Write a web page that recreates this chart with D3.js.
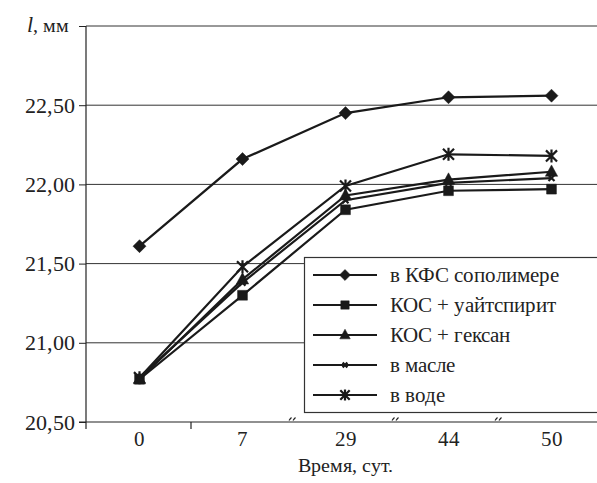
<!DOCTYPE html>
<html>
<head>
<meta charset="utf-8">
<script src="https://cdn.jsdelivr.net/npm/d3@7"></script>
<style>
  @font-face {
    font-family: "ChartSerif";
    src: local("Liberation Serif"), local("LiberationSerif"), local("LiberationSerif-Regular"), local("Tinos"), local("Times New Roman");
    font-style: normal;
  }
  @font-face {
    font-family: "ChartSerif";
    src: local("Liberation Serif Italic"), local("LiberationSerif-Italic"), local("Tinos Italic"), local("Times New Roman Italic");
    font-style: italic;
  }
  html, body { margin: 0; padding: 0; background: #fff; }
  svg { display: block; }
  svg text, svg tspan { font-family: "ChartSerif", "Liberation Serif", "Times New Roman" !important; }
</style>
</head>
<body>
<svg id="chart" width="597" height="483" font-family="Liberation Serif"></svg>
<script>
// Time points (days) and sample length l, mm, for each storage medium
const days = ["0", "7", "29", "44", "50"];
const seriesNames = ["в КФС сополимере", "КОС + уайтспирит", "КОС + гексан", "в масле", "в воде"];
const kfs      = [21.61, 22.16, 22.45, 22.55, 22.56];
const whiteSp  = [20.77, 21.30, 21.84, 21.96, 21.97];
const hexane   = [20.77, 21.40, 21.93, 22.03, 22.08];
const oil      = [20.78, 21.38, 21.90, 22.01, 22.04];
const water    = [20.78, 21.48, 21.99, 22.19, 22.18];
const yTicks   = [20.5, 21.0, 21.5, 22.0, 22.5, 23.0];
const markers  = ["diamond", "square", "triangle", "x", "asterisk"];

const seriesValues = [kfs, whiteSp, hexane, oil, water];

const svg = d3.select("#chart");
const W = 597;
const plotLeft = 86, plotTop = 26, plotBottom = 422;

const x = d3.scaleBand().domain(days).range([88, 603]).padding(0);
const y = d3.scaleLinear().domain([20.5, 23]).range([plotBottom, plotTop]);

// horizontal gridlines
svg.append("g").selectAll("line").data(yTicks.slice(1)).join("line")
  .attr("x1", plotLeft).attr("x2", W)
  .attr("y1", d => y(d)).attr("y2", d => y(d))
  .attr("stroke", "#333").attr("stroke-width", 1);

// y axis
const fmt = v => d3.format(".2f")(v).replace(".", ",");
const yAxis = d3.axisLeft(y).tickValues(yTicks).tickSize(7).tickPadding(4)
  .tickFormat(d => d === 23 ? "" : fmt(d));
const gy = svg.append("g").attr("transform", `translate(${plotLeft},0)`).call(yAxis);
gy.attr("font-family", null).attr("font-size", 22);
gy.select(".domain").remove();
gy.selectAll(".tick line").attr("stroke", "#222");
gy.selectAll(".tick text").attr("fill", "#222");
svg.append("line").attr("x1", plotLeft).attr("x2", plotLeft).attr("y1", plotTop).attr("y2", plotBottom + 7)
  .attr("stroke", "#222").attr("stroke-width", 1.2);

// unit label at the top tick
const unit = svg.append("text").attr("x", plotLeft - 17).attr("y", y(23)).attr("dy", "0.32em")
  .attr("text-anchor", "end").attr("font-size", 20).attr("fill", "#222");
unit.append("tspan").attr("font-style", "italic").attr("font-size", 22).text("l");
unit.append("tspan").text(", мм");

// x axis
svg.append("line").attr("x1", plotLeft - 7).attr("x2", W).attr("y1", plotBottom).attr("y2", plotBottom)
  .attr("stroke", "#222").attr("stroke-width", 1.2);
const xAxis = d3.axisBottom(x).tickSize(0).tickPadding(9);
const gx = svg.append("g").attr("transform", `translate(0,${plotBottom})`).call(xAxis);
gx.attr("font-family", null).attr("font-size", 21);
gx.select(".domain").remove();
gx.selectAll(".tick text").attr("fill", "#222");

// category boundaries: a tick between 0 and 7, scale-break marks after 7
const boundaries = days.slice(1).map(d => x(d));
boundaries.forEach((bx, i) => {
  if (i === 0) {
    svg.append("line").attr("x1", bx).attr("x2", bx).attr("y1", plotBottom).attr("y2", plotBottom + 7)
      .attr("stroke", "#222").attr("stroke-width", 1.2);
  } else {
    const g = svg.append("g").attr("transform", `translate(${bx - 4},${plotBottom - 3})`);
    [0, 4].forEach(dx => {
      g.append("path").attr("d", `M${dx - 1},1.5 Q${dx},0 ${dx + 1.5},-1.5`)
        .attr("fill", "none").attr("stroke", "#222").attr("stroke-width", 1.1);
    });
  }
});

svg.append("text").attr("x", 345).attr("y", 472).attr("text-anchor", "middle")
  .attr("font-size", 20).attr("fill", "#222").text("Время, сут.");

// marker shapes
function markerPath(type, s) {
  switch (type) {
    case "diamond": return `M0,${-s}L${s},0L0,${s}L${-s},0Z`;
    case "square": { const h = s * 0.82; return `M${-h},${-h}H${h}V${h}H${-h}Z`; }
    case "triangle": return `M0,${-s * 1.05}L${s * 0.95},${s * 0.7}L${-s * 0.95},${s * 0.7}Z`;
    case "x": { const h = s * 0.6; return `M${-h},${-h}L${h},${h}M${-h},${h}L${h},${-h}`; }
    case "asterisk": { const h = s * 0.85;
      return `M${-h},${-h}L${h},${h}M${-h},${h}L${h},${-h}M0,${-s}V${s}`; }
  }
}
function drawMarker(g, type, cx, cy, s) {
  const filled = type === "diamond" || type === "square" || type === "triangle";
  g.append("path").attr("transform", `translate(${cx},${cy})`)
    .attr("d", markerPath(type, s))
    .attr("fill", filled ? "#1a1a1a" : "none")
    .attr("stroke", "#1a1a1a")
    .attr("stroke-width", filled ? 0.5 : 2.2);
}

const line = d3.line().x((d, i) => x(days[i]) + x.bandwidth() / 2).y(d => y(d));
const sizes = [6.5, 6, 6.5, 5, 6.5];

seriesValues.forEach((vals, k) => {
  const g = svg.append("g");
  g.append("path").datum(vals).attr("d", line)
    .attr("fill", "none").attr("stroke", "#1a1a1a").attr("stroke-width", 2.2);
  vals.forEach((v, i) => drawMarker(g, markers[k], x(days[i]) + x.bandwidth() / 2, y(v), sizes[k]));
});

// legend
const lg = svg.append("g");
lg.append("rect").attr("x", 304.5).attr("y", 257.5).attr("width", 300).attr("height", 155)
  .attr("fill", "#fff").attr("stroke", "#333").attr("stroke-width", 1.2);
seriesNames.forEach((name, k) => {
  const ly = 275 + k * 30;
  lg.append("line").attr("x1", 313).attr("x2", 377).attr("y1", ly).attr("y2", ly)
    .attr("stroke", "#1a1a1a").attr("stroke-width", 2.2);
  drawMarker(lg, markers[k], 345, ly, k === 3 ? 4 : sizes[k] * 0.85);
  lg.append("text").attr("x", 390).attr("y", ly).attr("dy", "0.32em")
    .attr("font-size", 21).attr("fill", "#222").text(name);
});
</script>
</body>
</html>
